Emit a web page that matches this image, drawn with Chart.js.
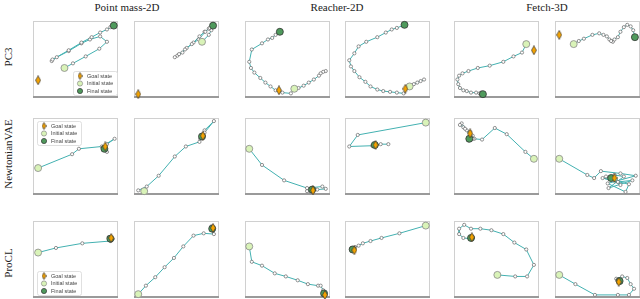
<!DOCTYPE html>
<html>
<head>
<meta charset="utf-8">
<script src="https://cdn.jsdelivr.net/npm/chart.js@4.4.0/dist/chart.umd.min.js"></script>
<style>
  body { margin: 0; width: 640px; height: 299px; background: #fff; position: relative; overflow: hidden; font-family: "Liberation Serif", serif; }
  canvas { position: absolute; }
  .title { position: absolute; top: 1px; font-size: 11px; color: #222; transform: translateX(-50%); white-space: nowrap; }
  .rowlab { position: absolute; left: 8px; font-size: 11px; color: #222; transform: translate(-50%, -50%) rotate(-90deg); white-space: nowrap; }
</style>
</head>
<body>
<div id="wrap"></div>
<script>
// column and row labels
const columnTitles = ['Point mass-2D', 'Reacher-2D', 'Fetch-3D'];
const rowTitles = ['PC3', 'NewtonianVAE', 'ProCL'];
const legendLabels = ['Goal state', 'Initial state', 'Final state'];

// trajectories (x, y in 0..100 of each panel)
// markers = [initial, final, goal]
const pc3Point1 = [[37,39],[47,45],[62,54],[78,64],[87,73],[79,80],[67,76],[57,71],[42,61],[28,53],[22,48],[23,50],[42,62],[57,72],[69,79],[79,85],[87,89],[91,92],[95,94]];
const pc3Point1Marks = [[37,39],[95,94],[6,23]];
const pc3Point2 = [[80,73],[88,82],[91,88],[88,90],[83,86],[77,80],[70,72],[62,65],[57,59],[51,55],[48,53],[53,57],[60,63],[68,70],[76,76],[84,86],[89,91],[93,94]];
const pc3Point2Marks = [[80,73],[93,94],[5,5]];
const pc3Reacher1 = [[95,35],[92,34],[89,32],[87,29],[81,24],[75,20],[69,16],[63,13],[58,12],[54,6],[44,7],[36,10],[30,15],[24,20],[18,26],[11,33],[7,39],[5,47],[8,63],[20,71],[27,76],[32,78],[36,82],[41,86]];
const pc3Reacher1Marks = [[58,12],[41,86],[40,10]];
const pc3Reacher2 = [[93,24],[89,22],[85,20],[81,18],[76,15],[69,6],[61,7],[53,8],[45,9],[38,11],[30,15],[24,21],[17,27],[11,35],[7,41],[5,49],[11,58],[16,67],[25,73],[38,79],[48,85],[55,89],[61,91],[70,95]];
const pc3Reacher2Marks = [[76,15],[70,95],[71,12]];
const pc3Fetch1 = [[85,70],[80,59],[70,54],[58,47],[42,42],[28,39],[17,35],[10,32],[6,29],[4,24],[5,18],[7,13],[11,10],[15,9],[20,7],[26,7],[30,6],[32,7],[34,5]];
const pc3Fetch1Marks = [[85,70],[34,5],[94,62]];
const pc3Fetch2 = [[22,70],[28,74],[34,77],[44,82],[52,84],[57,82],[61,80],[64,76],[68,73],[70,76],[66,74],[74,79],[77,86],[81,92],[85,95],[89,93],[92,88],[94,79]];
const pc3Fetch2Marks = [[22,70],[94,79],[5,82]];

const nvaePoint1 = [[6,35],[46,53],[54,60],[81,63],[96,73],[87,66],[84,59],[87,56],[83,61],[85,63]];
const nvaePoint1Marks = [[6,35],[84,60],[85,63]];
const nvaePoint2 = [[5,6],[15,11],[29,25],[48,50],[61,63],[77,69],[78,73],[83,84],[94,96],[83,81],[79,75]];
const nvaePoint2Marks = [[12,5],[80,76],[81,77]];
const nvaeReacher1 = [[5,60],[20,39],[46,19],[73,9],[91,11],[95,8],[85,7],[77,6],[73,5],[77,4],[81,7]];
const nvaeReacher1Marks = [[5,60],[79,7],[80,6]];
const nvaeReacher2 = [[95,94],[15,78],[5,63],[32,64],[36,65],[42,66],[51,66]];
const nvaeReacher2Marks = [[95,94],[35,65],[36,65]];
const nvaeFetch1 = [[94,47],[84,56],[62,79],[48,87],[33,72],[24,73],[22,77],[15,84],[9,93],[7,91],[11,88],[19,82],[22,73],[17,71],[20,76],[13,86]];
const nvaeFetch1Marks = [[94,47],[18,73],[19,80]];
const nvaeFetch2 = [[5,47],[38,26],[46,22],[54,31],[77,28],[95,25],[62,15],[83,4],[87,14],[56,22],[74,17],[91,19],[63,9],[81,24],[70,26],[77,13],[60,24]];
const nvaeFetch2Marks = [[5,47],[66,22],[70,22]];

const proclPoint1 = [[6,59],[27,65],[58,71],[91,74],[92,78],[89,79],[94,77]];
const proclPoint1Marks = [[6,59],[91,77],[92,78]];
const proclPoint2 = [[5,5],[14,16],[25,27],[36,40],[47,52],[58,67],[70,81],[82,84],[94,83],[93,90],[91,93]];
const proclPoint2Marks = [[5,5],[92,90],[93,91]];
const proclReacher1 = [[5,67],[8,47],[20,42],[35,32],[48,28],[62,23],[74,18],[86,16],[89,16],[92,10],[93,7]];
const proclReacher1Marks = [[5,67],[93,6],[94,4]];
const proclReacher2 = [[95,94],[64,84],[43,78],[30,74],[21,71],[16,68],[12,66],[7,64],[8,65]];
const proclReacher2Marks = [[95,94],[9,63],[11,62]];
const proclFetch1 = [[51,30],[72,28],[86,28],[94,43],[85,63],[71,72],[58,83],[44,88],[31,90],[20,90],[12,95],[6,90],[6,83],[11,78],[19,77],[22,78]];
const proclFetch1Marks = [[51,30],[20,78],[21,79]];
const proclFetch2 = [[5,30],[24,18],[47,4],[74,4],[87,4],[93,12],[89,18],[85,26],[79,28],[72,25],[73,23],[77,20]];
const proclFetch2Marks = [[5,30],[76,22],[75,21]];

const panelRows = [
  [[pc3Point1, pc3Point1Marks], [pc3Point2, pc3Point2Marks], [pc3Reacher1, pc3Reacher1Marks], [pc3Reacher2, pc3Reacher2Marks], [pc3Fetch1, pc3Fetch1Marks], [pc3Fetch2, pc3Fetch2Marks]],
  [[nvaePoint1, nvaePoint1Marks], [nvaePoint2, nvaePoint2Marks], [nvaeReacher1, nvaeReacher1Marks], [nvaeReacher2, nvaeReacher2Marks], [nvaeFetch1, nvaeFetch1Marks], [nvaeFetch2, nvaeFetch2Marks]],
  [[proclPoint1, proclPoint1Marks], [proclPoint2, proclPoint2Marks], [proclReacher1, proclReacher1Marks], [proclReacher2, proclReacher2Marks], [proclFetch1, proclFetch1Marks], [proclFetch2, proclFetch2Marks]]
];
const legendCorners = ['br', 'tl', 'bl'];

// layout of the panel boxes
const colLeft = [33, 134, 245, 345, 454, 555];
const colWidth = 85;
const rowTop = [21, 118, 221];
const rowHeight = 77;
const pad = 7;

const colors = {
  line: '#43b1b1',
  goal: '#f5a300',
  init: '#d9f3b8',
  fin: '#4f9a5c'
};

// thin vertical diamond, like matplotlib's 'd'
function diamondImage(w, h) {
  const c = document.createElement('canvas');
  c.width = w; c.height = h;
  const g = c.getContext('2d');
  g.beginPath();
  g.moveTo(w / 2, 0.5);
  g.lineTo(w - 0.5, h / 2);
  g.lineTo(w / 2, h - 0.5);
  g.lineTo(0.5, h / 2);
  g.closePath();
  g.fillStyle = colors.goal;
  g.fill();
  g.lineWidth = 0.7;
  g.strokeStyle = '#333';
  g.stroke();
  return c;
}
const goalImg = diamondImage(6, 10);
const goalImgSmall = diamondImage(5, 8);

const framePlugin = {
  id: 'frame',
  beforeDatasetsDraw(chart) {
    const a = chart.chartArea, ctx = chart.ctx;
    ctx.save();
    ctx.strokeStyle = '#d0d0d0';
    ctx.lineWidth = 1;
    ctx.strokeRect(a.left + 0.5, a.top + 0.5, a.right - a.left - 1, a.bottom - a.top - 1);
    ctx.strokeStyle = '#9a9a9a';
    ctx.lineWidth = 2;
    ctx.beginPath();
    ctx.moveTo(a.left, a.bottom - 1);
    ctx.lineTo(a.right, a.bottom - 1);
    ctx.stroke();
    ctx.restore();
  }
};

const stateLegend = {
  id: 'stateLegend',
  afterDraw(chart, args, opts) {
    if (!opts.corner) return;
    const a = chart.chartArea, ctx = chart.ctx;
    const w = 44, h = 24;
    let x = a.left + 4, y = a.top + 3;
    if (opts.corner === 'br') { x = a.right - w - 1; y = a.bottom - h - 3; }
    if (opts.corner === 'bl') { x = a.left + 4; y = a.bottom - h - 3; }
    ctx.save();
    ctx.fillStyle = 'rgba(255,255,255,0.9)';
    ctx.strokeStyle = '#d8d8d8';
    ctx.lineWidth = 0.8;
    ctx.beginPath();
    ctx.roundRect(x + 0.5, y + 0.5, w, h, 2);
    ctx.fill();
    ctx.stroke();
    const ys = [y + 5, y + 12.5, y + 20];
    ctx.drawImage(goalImgSmall, x + 4.5, ys[0] - 4);
    [[colors.init, '#888'], [colors.fin, '#333']].forEach((c, i) => {
      ctx.beginPath();
      ctx.arc(x + 7, ys[i + 1], 2.6, 0, Math.PI * 2);
      ctx.fillStyle = c[0];
      ctx.fill();
      ctx.strokeStyle = c[1];
      ctx.lineWidth = 0.7;
      ctx.stroke();
    });
    ctx.fillStyle = '#444';
    ctx.font = '5.5px "Liberation Sans", sans-serif';
    ctx.textBaseline = 'middle';
    legendLabels.forEach((t, i) => ctx.fillText(t, x + 14, ys[i]));
    ctx.restore();
  }
};

const toXY = arr => arr.map(p => ({ x: p[0], y: p[1] }));
const wrap = document.getElementById('wrap');

panelRows.forEach((row, r) => {
  row.forEach((panel, c) => {
    const [path, marks] = panel;
    const cv = document.createElement('canvas');
    cv.width = colWidth + pad * 2;
    cv.height = rowHeight + pad * 2;
    cv.style.left = (colLeft[c] - pad) + 'px';
    cv.style.top = (rowTop[r] - pad) + 'px';
    wrap.appendChild(cv);
    new Chart(cv.getContext('2d'), {
      type: 'scatter',
      data: {
        datasets: [
          { data: toXY([marks[2]]), pointStyle: goalImg, pointRadius: 5, clip: false },
          { data: toXY([marks[1]]), pointRadius: 3.5, backgroundColor: colors.fin, borderColor: '#333', borderWidth: 0.8, clip: false },
          { data: toXY([marks[0]]), pointRadius: 3.5, backgroundColor: colors.init, borderColor: '#888', borderWidth: 0.8, clip: false },
          {
            data: toXY(path), showLine: true, borderColor: colors.line, borderWidth: 1,
            pointRadius: 1.6, backgroundColor: '#fff', pointBorderColor: '#666', pointBorderWidth: 0.7,
            tension: 0, clip: false
          }
        ]
      },
      options: {
        responsive: false,
        animation: false,
        layout: { padding: pad },
        events: [],
        scales: {
          x: { display: false, min: 0, max: 100 },
          y: { display: false, min: 0, max: 100 }
        },
        plugins: {
          legend: { display: false },
          tooltip: { enabled: false },
          stateLegend: { corner: c === 0 ? legendCorners[r] : null }
        }
      },
      plugins: [framePlugin, stateLegend]
    });
  });
});

// titles
const titleX = [127, 337, 547];
columnTitles.forEach((t, i) => {
  const d = document.createElement('div');
  d.className = 'title';
  d.style.left = titleX[i] + 'px';
  d.textContent = t;
  document.body.appendChild(d);
});
const rowY = [57, 154, 263];
rowTitles.forEach((t, i) => {
  const d = document.createElement('div');
  d.className = 'rowlab';
  d.style.top = rowY[i] + 'px';
  d.textContent = t;
  document.body.appendChild(d);
});
</script>
</body>
</html>
